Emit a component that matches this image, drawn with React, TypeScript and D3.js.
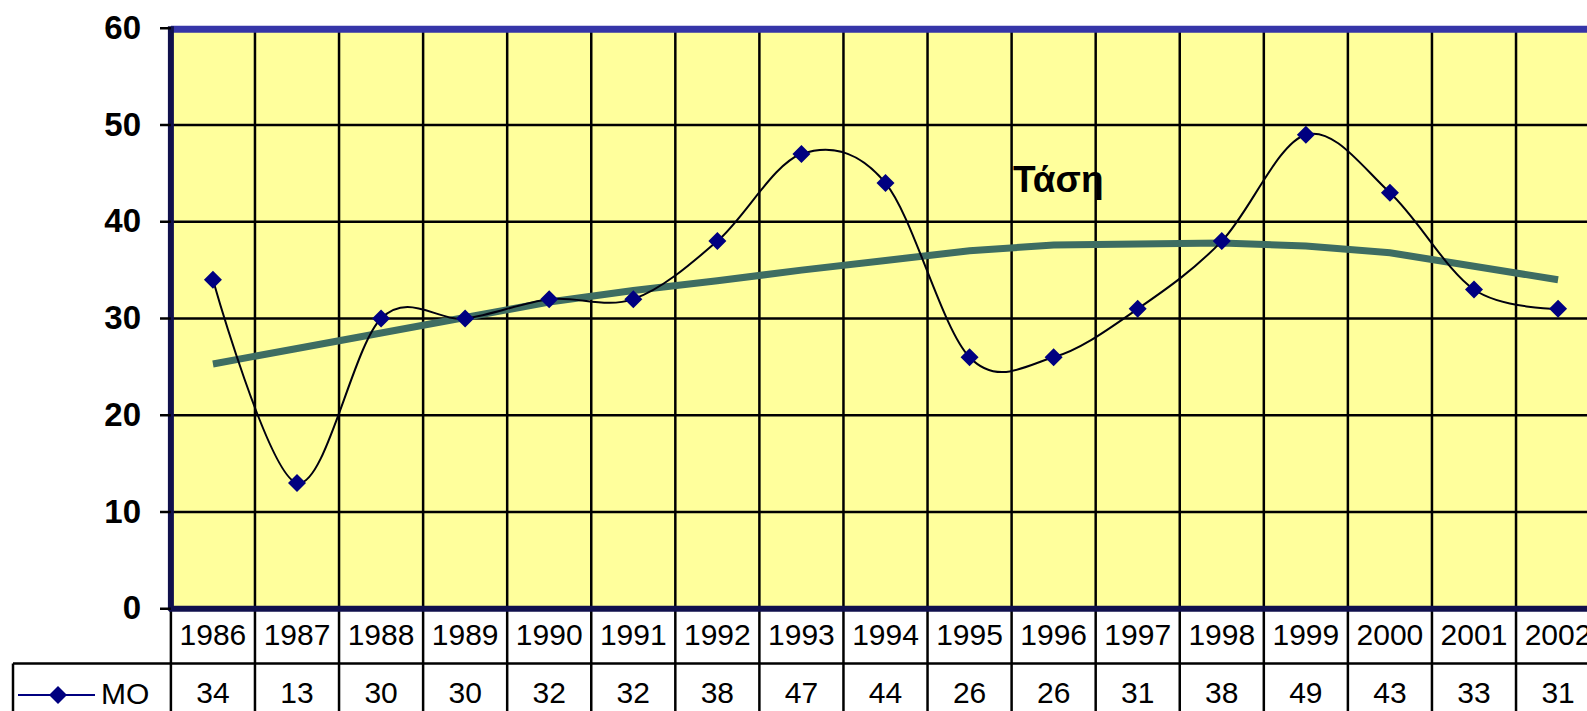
import React from 'react';
import * as d3 from 'd3';

const years = ['1986','1987','1988','1989','1990','1991','1992','1993','1994','1995','1996','1997','1998','1999','2000','2001','2002'];
const moValues = [34,13,30,30,32,32,38,47,44,26,26,31,38,49,43,33,31];
const trendValues = [25.3,26.9,28.5,30.1,31.7,32.9,33.9,35.0,36.0,37.0,37.6,37.7,37.8,37.5,36.8,35.4,34.0];
const yTicks = [0,10,20,30,40,50,60];
const seriesName = 'ΜΟ';
const trendLabel = 'Τάση';

const W = 1587;
const H = 711;
const FONT = '"Liberation Sans", Arial, sans-serif';

export default function App() {
  const x = d3.scaleBand<string>().domain(years).range([170.9, 1600.1]).padding(0);
  const y = d3.scaleLinear().domain([0, 60]).range([608.75, 28.25]);
  const bw = x.bandwidth();
  const cx = (i: number) => (x(years[i]) as number) + bw / 2;

  const boundaries = years.map((yr) => x(yr) as number).concat([(x(years[years.length - 1]) as number) + bw]);

  const dataLine = d3.line<number>().x((_, i) => cx(i)).y((d) => y(d)).curve(d3.curveCardinal.tension(0));
  const trendLine = d3.line<number>().x((_, i) => cx(i)).y((d) => y(d)).curve(d3.curveLinear);

  const diamond = (px: number, py: number, r: number) =>
    `M${px},${py - r}L${px + r},${py}L${px},${py + r}L${px - r},${py}Z`;

  const plotLeft = x.range()[0];
  const plotRight = x.range()[1];
  const yTop = y(60);
  const yBot = y(0);
  const tableMid = 663.5;

  return (
    <svg width={W} height={H} style={{ position: 'absolute', left: 0, top: 0, background: '#fff' }} fontFamily={FONT}>
      <rect x={plotLeft} y={yTop} width={plotRight - plotLeft} height={yBot - yTop} fill="#ffff9c" />
      {yTicks.filter((t) => t > 0 && t < 60).map((t) => (
        <line key={'h' + t} x1={plotLeft} x2={plotRight} y1={y(t)} y2={y(t)} stroke="#000" strokeWidth={2.5} />
      ))}
      {boundaries.slice(1).map((bx, i) => (
        <line key={'v' + i} x1={bx} x2={bx} y1={yTop} y2={H} stroke="#000" strokeWidth={2.5} />
      ))}
      <line x1={plotLeft} x2={plotLeft} y1={yBot} y2={H} stroke="#000" strokeWidth={2.5} />
      <line x1={13} x2={W} y1={tableMid} y2={tableMid} stroke="#000" strokeWidth={2.5} />
      <line x1={13} x2={13} y1={tableMid} y2={H} stroke="#000" strokeWidth={2.5} />

      <path d={trendLine(trendValues) || ''} fill="none" stroke="#3e6d62" strokeWidth={7} />
      <path d={dataLine(moValues) || ''} fill="none" stroke="#000010" strokeWidth={2} />
      {moValues.map((v, i) => (
        <path key={'m' + i} d={diamond(cx(i), y(v), 9)} fill="#000080" />
      ))}

      <line x1={plotLeft} x2={W} y1={yTop + 1} y2={yTop + 1} stroke="#3535a8" strokeWidth={7} />
      <line x1={plotLeft} x2={plotLeft} y1={yTop - 2} y2={yBot + 2} stroke="#10104c" strokeWidth={6} />
      <line x1={plotLeft - 2} x2={W} y1={yBot} y2={yBot} stroke="#10104c" strokeWidth={6} />

      {yTicks.map((t) => (
        <g key={'t' + t}>
          <line x1={160} x2={plotLeft} y1={y(t)} y2={y(t)} stroke="#000" strokeWidth={2.5} />
          <text x={141} y={y(t) - 1} textAnchor="end" dominantBaseline="central" fontSize={33} fontWeight="bold" fill="#000">{t}</text>
        </g>
      ))}

      <text x={1013} y={192} fontSize={37} fontWeight="bold" fill="#000">{trendLabel}</text>

      {years.map((yr, i) => (
        <text key={'y' + yr} x={cx(i)} y={645} textAnchor="middle" fontSize={30} fill="#000">{yr}</text>
      ))}
      {moValues.map((v, i) => (
        <text key={'v' + i} x={cx(i)} y={703} textAnchor="middle" fontSize={30} fill="#000">{v}</text>
      ))}
      <line x1={18} x2={95} y1={695} y2={695} stroke="#000080" strokeWidth={2} />
      <path d={diamond(58, 695, 9)} fill="#000080" />
      <text x={101} y={704} fontSize={30} fill="#000">{seriesName}</text>
    </svg>
  );
}
